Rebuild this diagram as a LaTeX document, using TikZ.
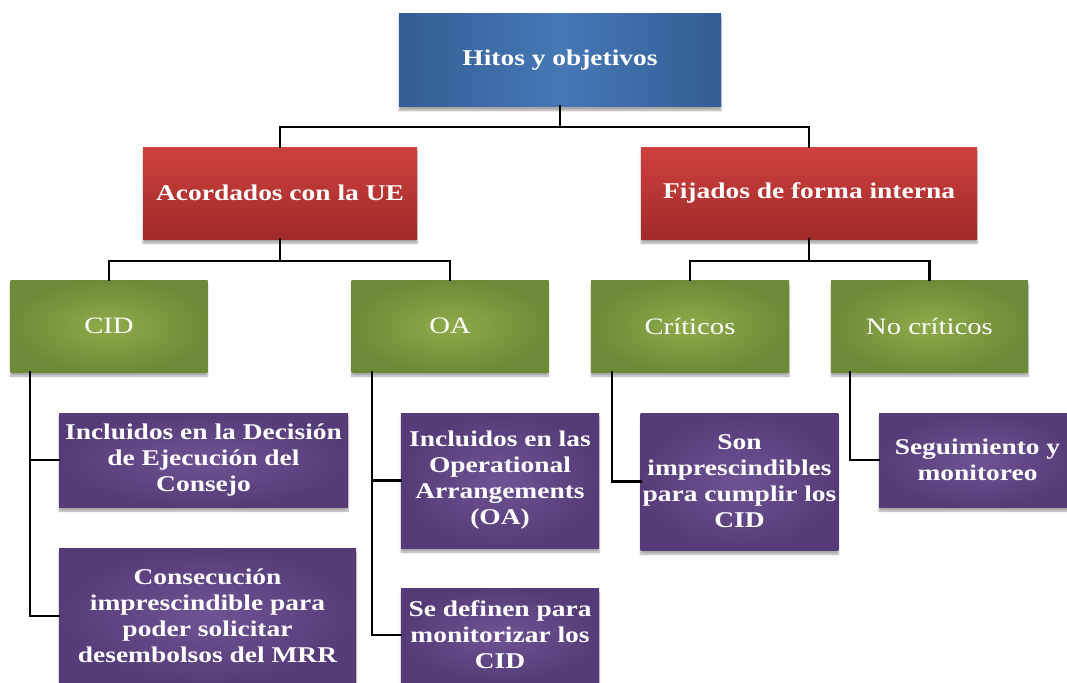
\documentclass[tikz,border=0pt]{standalone}
\usepackage{fontspec}
\setmainfont{Liberation Serif}[FakeStretch=1.22]
\usetikzlibrary{shadows.blur}
\definecolor{bluein}{HTML}{4678B6}
\definecolor{blueout}{HTML}{335D94}
\definecolor{redtop}{HTML}{CF403E}
\definecolor{redbot}{HTML}{A02B2A}
\definecolor{greenin}{HTML}{8EAC4A}
\definecolor{greenout}{HTML}{6D8A38}
\definecolor{purpin}{HTML}{6E5494}
\definecolor{purpout}{HTML}{553B77}
\tikzset{
  box/.style={rectangle, draw=none, text=white, align=center, inner sep=2pt,
    font=\fontsize{22.5}{26}\selectfont,
    blur shadow={shadow xshift=0pt, shadow yshift=-4pt, shadow blur steps=6, shadow opacity=35}},
  topbox/.style={box, font=\fontsize{22.5}{26}\selectfont\bfseries, left color=blueout, right color=blueout, middle color=bluein},
  redbox/.style={box, font=\fontsize{22.5}{26}\selectfont\bfseries, top color=redtop, bottom color=redbot},
  greenbox/.style={box, font=\fontsize{23.5}{27}\selectfont, shading=radial, inner color=greenin, outer color=greenout},
  purpbox/.style={box, font=\fontsize{22.5}{26}\selectfont\bfseries, shading=radial, inner color=purpin, outer color=purpout},
  link/.style={draw=black, line width=2.8pt, line cap=rect}
}
\begin{document}
\begin{tikzpicture}[x=1pt,y=-1pt]
\useasboundingbox (0,0) rectangle (1067,682);
\clip (0,0) rectangle (1067,682);
% level 0
\node[topbox, minimum width=322pt, minimum height=93pt] (top) at (560,60) {Hitos y objetivos};
% level 1
\node[redbox, minimum width=274pt, minimum height=92pt] (redL) at (280,193) {Acordados con la UE};
\node[redbox, minimum width=336pt, minimum height=92pt] (redR) at (809,193) {Fijados de forma interna};
% level 2
\node[greenbox, minimum width=197pt, minimum height=92pt] (cid) at (109,326) {CID};
\node[greenbox, minimum width=197pt, minimum height=92pt] (oa) at (450,326) {OA};
\node[greenbox, minimum width=198pt, minimum height=92pt] (crit) at (690,326) {Críticos};
\node[greenbox, minimum width=197pt, minimum height=92pt] (nocrit) at (929.5,326) {No críticos};
% level 3
\node[purpbox, minimum width=289pt, minimum height=94pt] (p1) at (203.5,460) {Incluidos en la Decisión\\de Ejecución del\\Consejo};
\node[purpbox, minimum width=297pt, minimum height=136pt] (p2) at (207.5,616) {Consecución\\imprescindible para\\poder solicitar\\desembolsos del MRR};
\node[purpbox, minimum width=198pt, minimum height=135pt] (oa1) at (500,480.5) {Incluidos en las\\Operational\\Arrangements\\(OA)};
\node[purpbox, minimum width=198pt, minimum height=94pt] (oa2) at (500,635) {Se definen para\\monitorizar los\\CID};
\node[purpbox, minimum width=197pt, minimum height=137pt] (critp) at (739.5,481.5) {Son\\imprescindibles\\para cumplir los\\CID};
\node[purpbox, minimum width=197pt, minimum height=94pt] (seg) at (977.5,460) {Seguimiento y\\monitoreo};
% junctions
\coordinate (j0) at (560,127);
\coordinate (jL) at (280,261);
\coordinate (jR) at (809,261);
\coordinate (vcid) at (30,372);
\coordinate (voa) at (372,372);
\coordinate (vcrit) at (612,372);
\coordinate (vnocrit) at (850,372);
% connectors
\draw[link] (top.south) -- (j0);
\draw[link] (j0) -| (redL.north);
\draw[link] (j0) -| (redR.north);
\draw[link] (redL.south) -- (jL);
\draw[link] (jL) -| (cid.north);
\draw[link] (jL) -| (oa.north);
\draw[link] (redR.south) -- (jR);
\draw[link] (jR) -| (crit.north);
\draw[link] (jR) -| (nocrit.north);
\draw[link] (vcid) |- (p1.west);
\draw[link] (vcid) |- (p2.west);
\draw[link] (voa) |- (oa1.west);
\draw[link] (voa) |- (oa2.west);
\draw[link] (vcrit) |- (critp.west);
\draw[link] (vnocrit) |- (seg.west);
\end{tikzpicture}
\end{document}
